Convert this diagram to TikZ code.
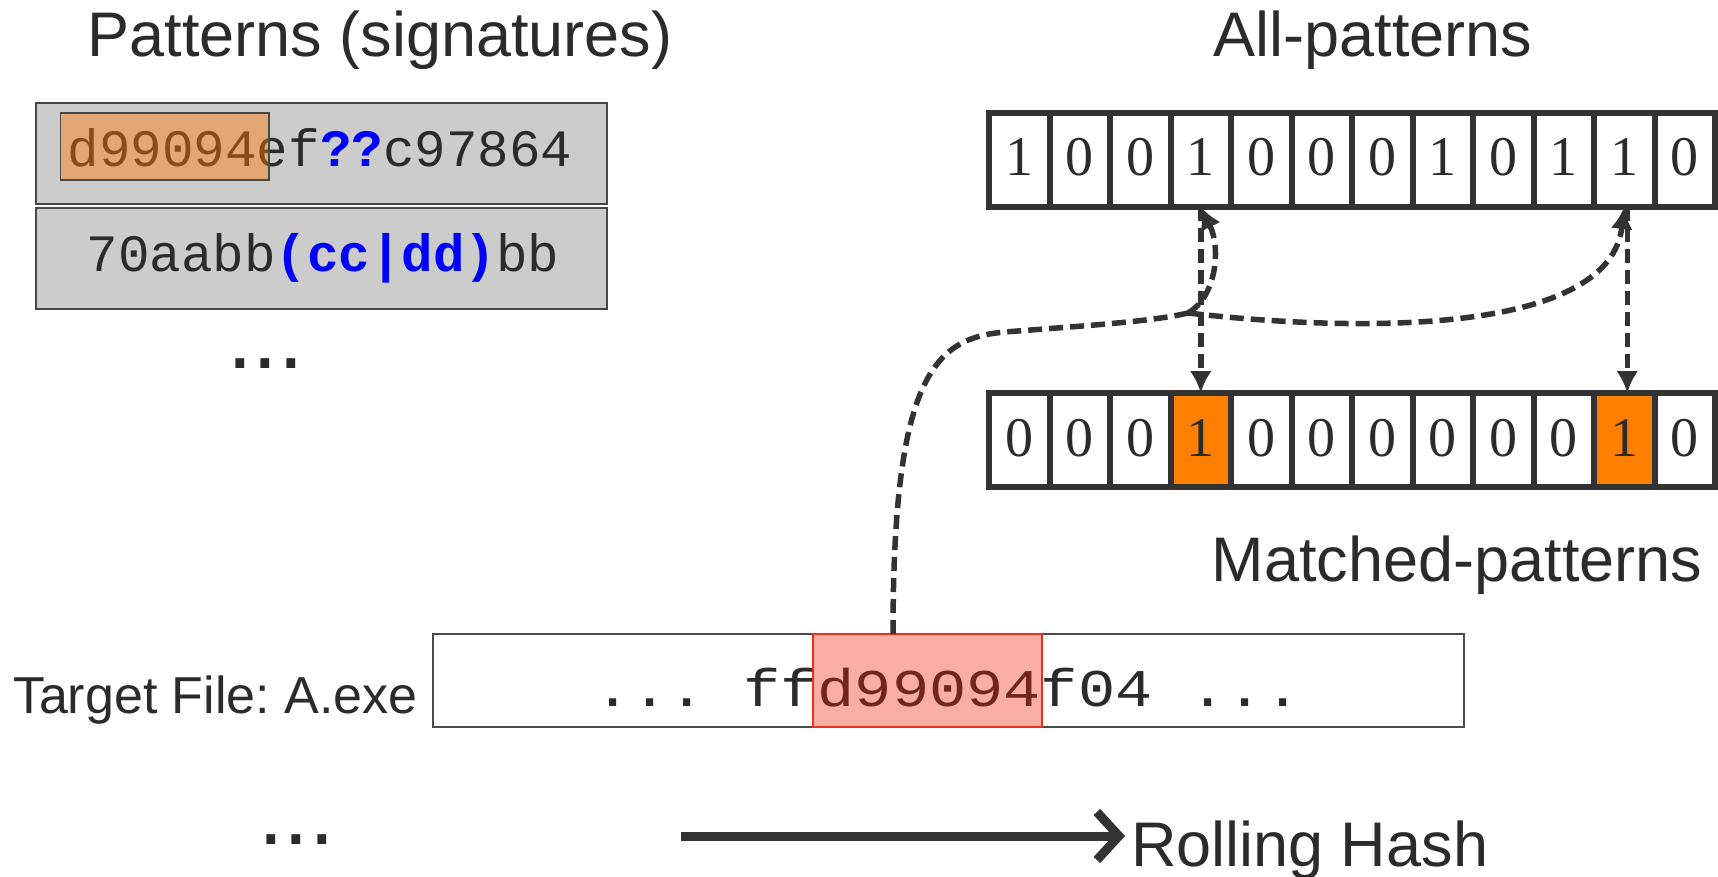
\documentclass[tikz,border=0pt]{standalone}
\usepackage{fontspec}
\setmainfont{Liberation Sans}
\newfontfamily\cellfont{Liberation Serif}
\newfontfamily\codefont{Liberation Mono}
\newfontfamily\widecode[FakeStretch=1.17]{Liberation Mono}
\usetikzlibrary{arrows.meta}
\definecolor{ink}{HTML}{2B2B2B}
\definecolor{linegray}{HTML}{333333}
\definecolor{boxgray}{HTML}{CCCCCC}
\definecolor{hitorange}{HTML}{FF7F00}
\definecolor{codeblue}{HTML}{0000FF}
\definecolor{hashred}{RGB}{240,28,0}
\definecolor{hashedge}{RGB}{232,50,30}
\definecolor{sigorange}{RGB}{255,120,0}

\begin{document}
\frenchspacing
\begin{tikzpicture}[x=1pt,y=-1pt,
  every node/.style={inner sep=0pt, outer sep=0pt, text=ink},
  heading/.style={font=\fontsize{63}{70}\selectfont, anchor=base},
  sigbox/.style={draw=black!72, line width=2pt, fill=boxgray,
    minimum width=571pt, minimum height=101pt},
  sigtext/.style={font=\codefont\fontsize{52.5}{60}\selectfont, anchor=base},
  cell/.style={draw=linegray, line width=6pt, fill=white,
    minimum width=60.5pt, minimum height=94pt},
  hitcell/.style={cell, fill=hitorange},
  bit/.style={font=\cellfont\fontsize{56}{60}\selectfont, anchor=base},
  dots/.style={font=\fontsize{92}{100}\selectfont, anchor=base},
  dashpath/.style={draw=linegray, line width=5.5pt, dash pattern=on 14pt off 7pt},
  dashlink/.style={dashpath, -{Latex[length=22pt,width=22pt]}},
]
\useasboundingbox (0,0) rectangle (1718,877);

% titles
\node[heading] (ttlsig) at (380,57) {Patterns (signatures)};
\node[heading] (ttlall) at (1373,57) {All-patterns};
\node[heading] (ttlmatch) at (1457,581) {Matched-patterns};

% signature list
\node[sigbox] (sig1) at (321.5,153.5) {};
\node[sigbox] (sig2) at (321.5,258.5) {};
\node[sigtext] (sig1txt) at (320,167)
  {d99094ef\textcolor{codeblue}{\bfseries ??}c97864};
\node[draw=black!72, line width=1.5pt, fill=sigorange, fill opacity=0.44,
  minimum width=208.5pt, minimum height=67pt] (sigkey) at (164.75,146.5) {};
\node[sigtext] (sig2txt) at (323,272)
  {70aabb\textcolor{codeblue}{\bfseries (cc|dd)}bb};
\node[dots] (moresig) at (265.5,368) {...};

% all-patterns and matched-patterns bit arrays
\foreach \b [count=\i from 0] in {1,0,0,1,0,0,0,1,0,1,1,0} {
  \node[cell] (top\i) at ({989+60.5*(\i+0.5)},160) {};
  \node[bit] at ({989+60.5*(\i+0.5)},176) {\b};
}
\foreach \b [count=\i from 0] in {0,0,0,1,0,0,0,0,0,0,1,0} {
  \ifnum\b=1
    \node[hitcell] (bot\i) at ({989+60.5*(\i+0.5)},440) {};
  \else
    \node[cell] (bot\i) at ({989+60.5*(\i+0.5)},440) {};
  \fi
  \node[bit] at ({989+60.5*(\i+0.5)},456) {\b};
}

% target file
\node[font=\fontsize{52}{60}\selectfont, anchor=base west] (tgtlbl) at (13,713)
  {Target File: A.exe};
\node[draw=black!70, line width=1.5pt, fill=white,
  minimum width=1031pt, minimum height=93pt] (tgt) at (948.5,680.5) {};
\node[font=\widecode\fontsize{53}{60}\selectfont, anchor=base] (tgttxt) at (948,706)
  {... ffd99094f04 ...};
\node[draw=hashedge, line width=1.5pt, fill=hashred, fill opacity=0.36,
  minimum width=229pt, minimum height=93pt] (win) at (927.5,680.5) {};

% lookup links
\coordinate (hashout) at (893,634);
\coordinate (fork) at (1188,313);
\draw[dashpath] (hashout) .. controls (893,375) and (935,338) .. (1005,332)
  .. controls (1080,326) and (1150,322) .. (fork);
\draw[dashlink] (fork) .. controls (1215,298) and (1222,250) .. (top3.south);
\draw[dashlink] (fork) .. controls (1380,335) and (1610,330) .. (top10.south);
\draw[dashlink] (top3.south) -- (bot3.north);
\draw[dashlink] ([xshift=3pt]top10.south) -- ([xshift=3pt]bot10.north);

% rolling direction
\node[dots] (moretgt) at (296.5,844) {...};
\coordinate (rollfrom) at (681,836);
\node[font=\fontsize{63}{70}\selectfont, anchor=base west] (roll) at (1131,866)
  {Rolling Hash};
\coordinate (rollto) at (1125,836);
\draw[draw=linegray, line width=9pt, -{Straight Barb[length=22pt,width=48pt]}]
  (rollfrom) -- (rollto);
\end{tikzpicture}
\end{document}
